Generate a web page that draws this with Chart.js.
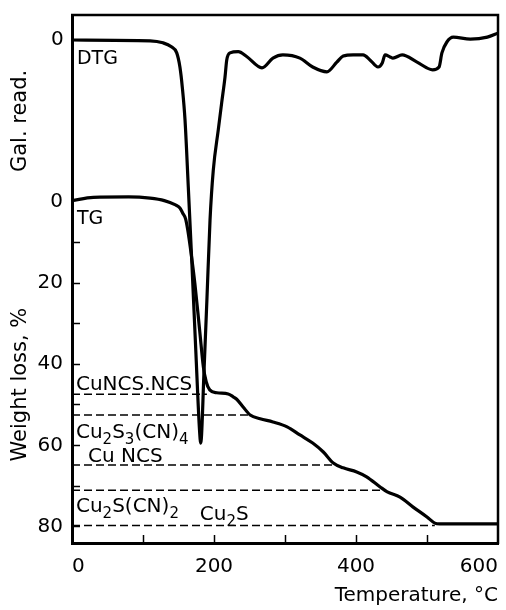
<!DOCTYPE html>
<html>
<head>
<meta charset="utf-8">
<script src="https://cdn.jsdelivr.net/npm/chart.js@4.4.1/dist/chart.umd.min.js"></script>
<style>
  html, body { margin: 0; padding: 0; background: #fff; }
  #wrap { width: 506px; height: 610px; position: relative; }
</style>
</head>
<body>
<div id="wrap"><canvas id="chart"></canvas></div>
<script>
// TG curve: temperature (°C) vs weight loss (%)
const tgTemp = [0, 30, 80, 110, 130, 145, 152, 156, 160, 163, 168, 173, 180, 185, 189, 194, 204, 220, 227, 232,
  241, 251, 265, 283, 303, 321, 339, 354, 368, 382, 401, 415, 434, 444, 462, 480, 500, 511, 518, 600];
const tgLoss = [-0.3, -1.1, -1.2, -0.9, -0.3, 0.7, 1.5, 2.8, 4.2, 6.9, 13, 20, 32, 40.6, 44.3, 46.3, 47, 47.3, 48, 48.6,
  50.5, 52.5, 53.4, 54.2, 55.4, 57.4, 59.4, 61.6, 64.3, 65.5, 66.5, 67.7, 70.2, 71.4, 72.7, 75.1, 77.6, 79.1, 79.3, 79.3];

// DTG curve: galvanometer reading (arbitrary units, 0 = baseline)
const dtgTemp = [0, 110, 128, 140, 147.5, 152, 155.4, 159.2, 163.8, 169, 174.6, 179.6, 181.3, 186, 190, 194.4, 199, 206,
  210.8, 215.5, 217.9, 222.5, 234.2, 246, 267.6, 283, 297, 321, 339, 359, 373, 382, 396, 410, 420, 431, 437, 441, 448,
  452, 465, 486, 508, 517, 521, 528, 537, 561, 585, 600];
const dtgSignal = [0, -0.2, -0.7, -1.7, -3.2, -6.7, -11.8, -19.9, -36.5, -56, -78, -96.8, -100, -81.9, -64.5, -44.7, -32.3, -22.3,
  -15.6, -9.2, -5, -3.2, -2.9, -4.1, -6.9, -4.5, -3.7, -4.5, -6.7, -7.9, -5.5, -4, -3.7, -3.7, -5, -6.7, -5.7, -3.7, -4.2,
  -4.5, -3.7, -5.5, -7.4, -6.7, -3.2, -0.5, 0.7, 0.2, 0.7, 1.7];

// theoretical weight loss of the intermediate phases (dashed lines)
const phaseLevels = [47.4, 52.5, 64.8, 71.0, 79.7];
const phaseEnds = [190, 251, 368, 434, 511];

// phase names ('_' marks a subscript character) and where they sit
const phaseNames = ['CuNCS.NCS', 'Cu_2S_3(CN)_4', 'Cu NCS', 'Cu_2S(CN)_2', 'Cu_2S'];
const phaseNameTemp = [5.6, 5.6, 22.5, 5.6, 180];
const phaseNameLoss = [46.3, 58.1, 64.0, 76.4, 78.3];

const xTicks = [0, 100, 200, 300, 400, 500, 600];
const yTicks = [0, 10, 20, 30, 40, 50, 60, 70, 80];

const FONT = '"DejaVu Sans", sans-serif';

const datasets = phaseLevels.map((lvl, i) => ({
  data: [{ x: 0, y: lvl }, { x: phaseEnds[i], y: lvl }],
  borderColor: '#000',
  borderWidth: 1.5,
  borderDash: [8, 4],
  pointRadius: 0,
  yAxisID: 'y'
}));

datasets.push({
  label: 'TG',
  data: tgTemp.map((t, i) => ({ x: t, y: tgLoss[i] })),
  borderColor: '#000',
  borderWidth: 3.2,
  pointRadius: 0,
  cubicInterpolationMode: 'monotone',
  yAxisID: 'y'
});

datasets.push({
  label: 'DTG',
  data: dtgTemp.map((t, i) => ({ x: t, y: dtgSignal[i] })),
  borderColor: '#000',
  borderWidth: 3.2,
  pointRadius: 0,
  cubicInterpolationMode: 'monotone',
  yAxisID: 'y2'
});

function drawChem(ctx, text, x, y, size) {
  let cx = x;
  for (let i = 0; i < text.length; i++) {
    let ch = text[i];
    let sub = false;
    if (ch === '_') { ch = text[++i]; sub = true; }
    ctx.font = (sub ? Math.round(size * 0.75) : size) + 'px ' + FONT;
    ctx.fillText(ch, cx, y + (sub ? size * 0.3 : 0));
    cx += ctx.measureText(ch).width;
  }
}

const extras = {
  id: 'extras',
  afterDatasetsDraw(chart) {
    const { ctx, chartArea: a, scales } = chart;
    const x = scales.x, y = scales.y, y2 = scales.y2;
    ctx.save();
    // top and right edges of the frame
    ctx.strokeStyle = '#000';
    ctx.lineWidth = 2.5;
    ctx.beginPath();
    ctx.moveTo(a.left - 1, a.top);
    ctx.lineTo(a.right, a.top);
    ctx.lineTo(a.right, a.bottom + 1);
    ctx.stroke();

    ctx.fillStyle = '#000';
    ctx.textAlign = 'left';
    ctx.textBaseline = 'alphabetic';
    drawChem(ctx, 'DTG', x.getPixelForValue(7), y2.getPixelForValue(-6), 19);
    drawChem(ctx, 'TG', x.getPixelForValue(7), y.getPixelForValue(5.4), 19);
    phaseNames.forEach((n, i) => {
      drawChem(ctx, n, x.getPixelForValue(phaseNameTemp[i]), y.getPixelForValue(phaseNameLoss[i]), 20);
    });

    // vertical axis titles
    ctx.font = '21px ' + FONT;
    ctx.textAlign = 'center';
    ctx.textBaseline = 'middle';
    const titles = [
      ['Gal. read.', (y2.getPixelForValue(0) + y.getPixelForValue(0)) / 2],
      ['Weight loss, %', y.getPixelForValue(45)]
    ];
    titles.forEach(([t, py]) => {
      ctx.save();
      ctx.translate(21, py);
      ctx.rotate(-Math.PI / 2);
      ctx.fillText(t, 0, 0);
      ctx.restore();
    });
    ctx.restore();
  }
};

const hideEnds = (ends) => (c) => (c.tick && ends.includes(c.tick.value)) ? 'rgba(0,0,0,0)' : '#000';
const noPad = s => { s.paddingTop = 0; s.paddingBottom = 0; s.paddingLeft = 0; s.paddingRight = 0; };

new Chart(document.getElementById('chart'), {
  type: 'line',
  data: { datasets },
  options: {
    responsive: true,
    maintainAspectRatio: false,
    animation: false,
    layout: { padding: { top: 15, right: 8, left: 0, bottom: 0 } },
    plugins: { legend: { display: false }, tooltip: { enabled: false } },
    scales: {
      x: {
        type: 'linear',
        min: 0,
        max: 600,
        afterBuildTicks: s => { s.ticks = xTicks.map(v => ({ value: v })); },
        afterFit: s => { s.height = 67; noPad(s); },
        ticks: {
          color: '#000',
          font: { family: FONT, size: 20 },
          padding: 20,
          align: 'inner',
          maxRotation: 0,
          autoSkip: false,
          callback: v => (v % 200 === 0 ? String(v) : '')
        },
        grid: { drawOnChartArea: false, tickLength: -8, tickWidth: 1.5, tickColor: hideEnds([0, 600]) },
        border: { color: '#000', width: 3 },
        title: {
          display: true,
          text: 'Temperature, °C',
          align: 'end',
          color: '#000',
          font: { family: FONT, size: 20 },
          padding: { top: 0, bottom: 2 }
        }
      },
      y: {
        type: 'linear',
        position: 'left',
        weight: 1,
        reverse: true,
        min: -46,
        max: 84,
        afterBuildTicks: s => { s.ticks = yTicks.map(v => ({ value: v })); },
        afterFit: s => { s.width = 72; noPad(s); },
        ticks: {
          color: '#000',
          font: { family: FONT, size: 20 },
          padding: 17,
          autoSkip: false,
          callback: v => (v % 20 === 0 ? String(v) : '')
        },
        grid: { drawOnChartArea: false, tickLength: -8, tickWidth: 1.5, tickColor: hideEnds([0]) },
        border: { color: '#000', width: 3 }
      },
      y2: {
        type: 'linear',
        position: 'left',
        weight: 0,
        min: -124.8,
        max: 6.2,
        afterBuildTicks: s => { s.ticks = [{ value: 0 }]; },
        afterFit: s => { s.width = 0; noPad(s); },
        ticks: {
          color: '#000',
          font: { family: FONT, size: 20 },
          mirror: true,
          padding: -21,
          callback: v => String(v)
        },
        grid: { display: false },
        border: { display: false }
      }
    }
  },
  plugins: [extras]
});
</script>
</body>
</html>
